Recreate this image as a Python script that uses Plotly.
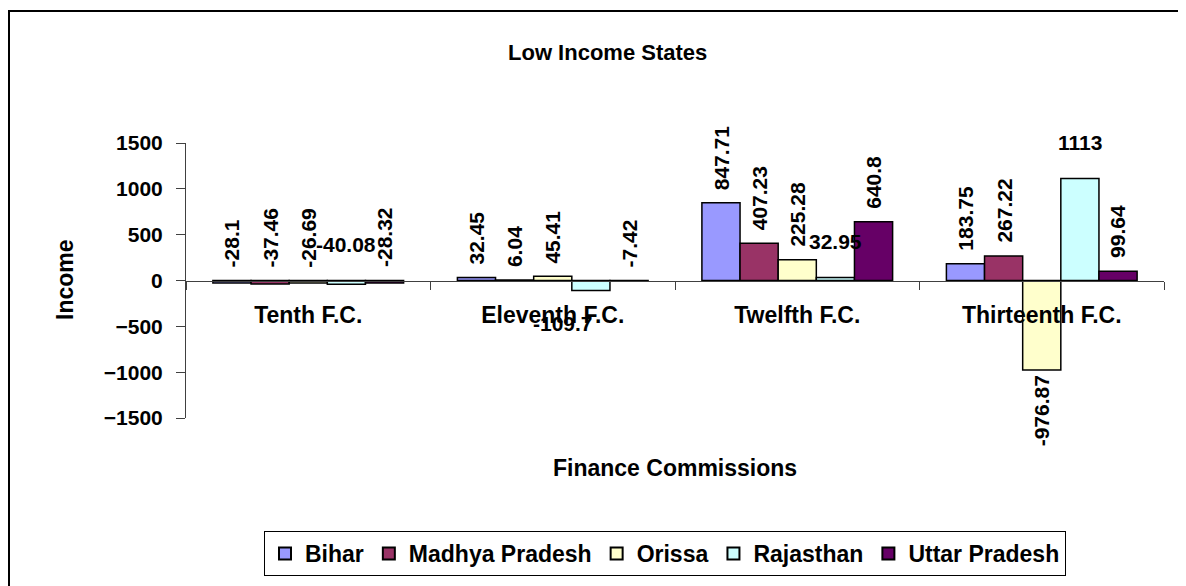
import plotly.graph_objects as go

categories = ["Tenth F.C.", "Eleventh F.C.", "Twelfth F.C.", "Thirteenth F.C."]
states = ["Bihar", "Madhya Pradesh", "Orissa", "Rajasthan", "Uttar Pradesh"]
bihar = [-28.1, 32.45, 847.71, 183.75]
madhya_pradesh = [-37.46, 6.04, 407.23, 267.22]
orissa = [-26.69, 45.41, 225.28, -976.87]
rajasthan = [-40.08, -109.7, 32.95, 1113]
uttar_pradesh = [-28.32, -7.42, 640.8, 99.64]
y_ticks = [-1500, -1000, -500, 0, 500, 1000, 1500]

series = [bihar, madhya_pradesh, orissa, rajasthan, uttar_pradesh]
colors = ["#9999FF", "#993366", "#FFFFCC", "#CCFFFF", "#660066"]
horizontal_label_series = {"Rajasthan"}

FONT = "Arial, Liberation Sans, sans-serif"
bargap = 0.22

# page offset of the plot div (default body margin)
OFF = 8
W, H = 1186 - OFF, 586 - OFF
L, R, T, B = 186 - OFF, 22, 143 - OFF, 168
pw, ph = W - L - R, H - T - B


def px(xp):
    return (xp - OFF - L) / pw


def py(yp):
    return (H - B - (yp - OFF)) / ph


fig = go.Figure()
for name, vals, col in zip(states, series, colors):
    fig.add_trace(go.Bar(
        name=name, x=categories, y=vals,
        marker=dict(color=col, line=dict(color="black", width=1.5)),
    ))

annotations = []
n = len(states)
bw = (1 - bargap) / n
for si, (name, vals) in enumerate(zip(states, series)):
    for ci, v in enumerate(vals):
        xc = ci + (si - (n - 1) / 2) * bw
        txt = f"{v:g}"
        font = dict(family=FONT, size=21, color="black", weight="bold")
        if name in horizontal_label_series:
            if v >= -100:
                annotations.append(dict(x=xc, y=max(v, 0), xref="x", yref="y", text=txt,
                                        showarrow=False, yanchor="middle", yshift=36, font=font))
            else:
                annotations.append(dict(x=xc, y=v, xref="x", yref="y", text=txt,
                                        showarrow=False, yanchor="middle", yshift=-33, xshift=-28,
                                        font=font))
        else:
            if v >= -200:
                annotations.append(dict(x=xc, y=max(v, 0), xref="x", yref="y", text=txt,
                                        showarrow=False, textangle=-90, yanchor="bottom",
                                        yshift=11, font=font))
            else:
                annotations.append(dict(x=xc, y=v, xref="x", yref="y", text=txt,
                                        showarrow=False, textangle=-90, yanchor="top",
                                        yshift=-3, font=font))

# titles
annotations.append(dict(x=px(607), y=py(52), xref="paper", yref="paper", text="Low Income States",
                        showarrow=False, xanchor="center", yanchor="middle",
                        font=dict(family=FONT, size=22, color="black", weight="bold")))
annotations.append(dict(x=px(65), y=py(280), xref="paper", yref="paper", text="Income",
                        showarrow=False, textangle=-90, xanchor="center", yanchor="middle",
                        font=dict(family=FONT, size=23, color="black", weight="bold")))
annotations.append(dict(x=px(675), y=py(468), xref="paper", yref="paper", text="Finance Commissions",
                        showarrow=False, xanchor="center", yanchor="middle",
                        font=dict(family=FONT, size=23, color="black", weight="bold")))

fig.update_layout(
    width=W, height=H,
    margin=dict(l=L, r=R, t=T, b=B, autoexpand=False),
    paper_bgcolor="white", plot_bgcolor="white",
    barmode="group", bargap=bargap, bargroupgap=0,
    showlegend=True,
    legend=dict(orientation="h", x=px(665), xanchor="center", y=py(531), yanchor="top",
                bordercolor="black", borderwidth=1,
                font=dict(family=FONT, size=23, color="black", weight="bold"),
                itemsizing="constant", traceorder="normal"),
    annotations=annotations,
    shapes=[dict(type="rect", xref="paper", yref="paper",
                 x0=px(9), x1=px(1182), y0=py(592), y1=py(11),
                 line=dict(color="black", width=2), layer="above")],
)
fig.update_xaxes(type="category", anchor="free", position=0.5, showline=True,
                 linecolor="#404040", linewidth=1, ticks="outside", tickson="boundaries",
                 ticklen=8, tickcolor="#404040", showgrid=False, zeroline=False,
                 ticklabelstandoff=14,
                 tickfont=dict(family=FONT, size=23, color="black", weight="bold"))
fig.update_yaxes(range=[-1500, 1500], tickvals=y_ticks, showline=True, linecolor="#404040",
                 linewidth=1, ticks="outside", ticklen=9, tickcolor="#404040", showgrid=False,
                 zeroline=False, ticklabelstandoff=9,
                 tickfont=dict(family=FONT, size=21, color="black", weight="bold"))

fig.write_html("out.html")
